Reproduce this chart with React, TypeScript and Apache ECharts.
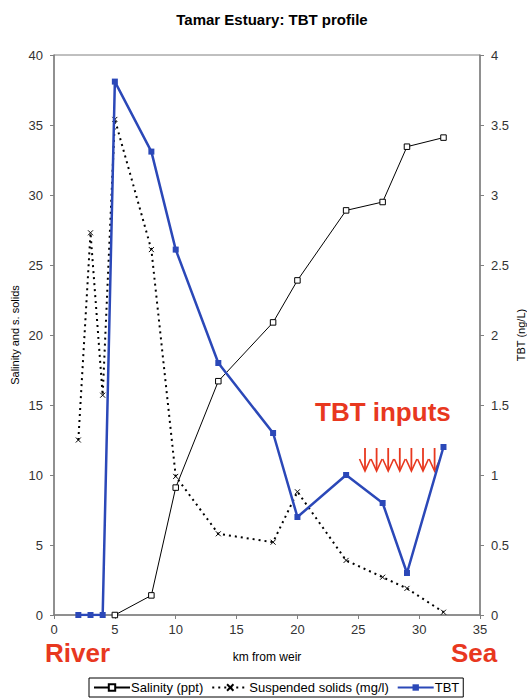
import React, { useEffect, useRef } from "react";
import * as echarts from "echarts";

const title = "Tamar Estuary: TBT profile";
const salinityKm = [5, 8, 10, 13.5, 18, 20, 24, 27, 29, 32];
const salinity = [0, 1.4, 9.1, 16.7, 20.9, 23.9, 28.9, 29.5, 33.45, 34.1];
const solidsKm = [2, 3, 4, 5, 8, 10, 13.5, 18, 20, 24, 27, 29, 32];
const solids = [12.5, 27.3, 15.7, 35.4, 26.1, 9.9, 5.8, 5.2, 8.8, 3.9, 2.7, 1.9, 0.2];
const tbtKm = [2, 3, 4, 5, 8, 10, 13.5, 18, 20, 24, 27, 29, 32];
const tbt = [0, 0, 0, 3.81, 3.31, 2.61, 1.8, 1.3, 0.7, 1.0, 0.8, 0.3, 1.2];
const seriesNames = ["Salinity (ppt)", "Suspended solids (mg/l)", "TBT"];

const FONT = "'Liberation Sans', Arial, sans-serif";
const RED = "#e8381f";
const BLUE = "#2b48b8";
const AXIS = "#808080";

function zip(xs: number[], ys: number[]) {
  return xs.map((x, i) => [x, ys[i]]);
}

export default function App() {
  const ref = useRef<HTMLDivElement>(null);
  useEffect(() => {
    if (!ref.current) return;
    const chart = echarts.init(ref.current, undefined, { renderer: "svg" });
    const arrows: any[] = [];
    for (let i = 0; i < 7; i++) {
      const x = 365 + i * 11.6;
      arrows.push({
        type: "line",
        shape: { x1: x, y1: 448, x2: x, y2: 470 },
        style: { stroke: RED, lineWidth: 1.8 },
      });
      arrows.push({
        type: "polyline",
        shape: { points: [[x - 5.5, 459], [x, 471], [x + 5.5, 459]] },
        style: { stroke: RED, lineWidth: 1.6, fill: "none" },
      });
    }
    chart.setOption({
      animation: false,
      backgroundColor: "#fff",
      title: {
        text: title,
        left: 267,
        textAlign: "center",
        top: 7,
        textStyle: { fontFamily: FONT, fontSize: 15, fontWeight: "bold", color: "#000" },
      },
      grid: {
        left: 54,
        right: 47,
        top: 55,
        bottom: 84,
        containLabel: false,
        outerBoundsMode: "none",
        show: true,
        borderColor: AXIS,
        borderWidth: 1,
        backgroundColor: "transparent",
      },
      legend: {
        left: 89,
        top: 678,
        width: 400,
        padding: [3, 4, 3, 4],
        borderColor: "#000",
        borderWidth: 1,
        itemWidth: 36,
        itemHeight: 8,
        itemGap: 8,
        textStyle: { fontFamily: FONT, fontSize: 13, color: "#000", padding: [0, 0, 0, -4] },
        data: seriesNames,
      },
      xAxis: {
        type: "value",
        min: 0,
        max: 35,
        interval: 5,
        name: "km from weir",
        nameLocation: "middle",
        nameGap: 36,
        nameMoveOverlap: false,
        nameTextStyle: { fontFamily: FONT, fontSize: 12, color: "#000" },
        axisLine: { lineStyle: { color: AXIS, width: 1.5 } },
        axisTick: { show: true, length: 4, lineStyle: { color: AXIS } },
        axisLabel: { fontFamily: FONT, fontSize: 13, color: "#333", margin: 8 },
        splitLine: { show: false },
      },
      yAxis: [
        {
          type: "value",
          min: 0,
          max: 40,
          interval: 5,
          name: "Salinity and s. solids",
          nameLocation: "middle",
          nameGap: 34,
          nameMoveOverlap: false,
          nameTextStyle: { fontFamily: FONT, fontSize: 11, color: "#000" },
          axisLine: { show: true, lineStyle: { color: AXIS, width: 1.5 } },
          axisTick: { show: true, length: 4, lineStyle: { color: AXIS } },
          axisLabel: { fontFamily: FONT, fontSize: 13, color: "#333", margin: 11 },
          splitLine: { show: false },
        },
        {
          type: "value",
          min: 0,
          max: 4,
          interval: 0.5,
          position: "right",
          name: "TBT (ng/L)",
          nameLocation: "middle",
          nameGap: 35,
          nameRotate: 90,
          nameMoveOverlap: false,
          nameTextStyle: { fontFamily: FONT, fontSize: 11, color: "#000" },
          axisLine: { show: true, lineStyle: { color: AXIS, width: 1.5 } },
          axisTick: { show: true, length: 4, lineStyle: { color: AXIS } },
          axisLabel: { fontFamily: FONT, fontSize: 13, color: "#333", margin: 11 },
          splitLine: { show: false },
        },
      ],
      series: [
        {
          name: seriesNames[0],
          type: "line",
          yAxisIndex: 0,
          data: zip(salinityKm, salinity),
          symbol: "rect",
          symbolSize: 5.5,
          lineStyle: { color: "#000", width: 1 },
          itemStyle: { color: "#fff", borderColor: "#000", borderWidth: 1 },
          z: 2,
        },
        {
          name: seriesNames[1],
          type: "line",
          yAxisIndex: 0,
          data: zip(solidsKm, solids),
          symbol: "path://M0,0L10,10M10,0L0,10",
          symbolSize: 5,
          lineStyle: { color: "#000", width: 2, type: [2, 4] },
          itemStyle: { color: "transparent", borderColor: "#000", borderWidth: 1 },
          z: 3,
        },
        {
          name: seriesNames[2],
          type: "line",
          yAxisIndex: 1,
          data: zip(tbtKm, tbt),
          symbol: "rect",
          symbolSize: 6,
          lineStyle: { color: BLUE, width: 2.5 },
          itemStyle: { color: BLUE },
          z: 4,
        },
      ],
      graphic: [
        {
          type: "text",
          left: 45,
          top: 640,
          style: { text: "River", fill: RED, font: `bold 26px ${FONT}` },
        },
        {
          type: "text",
          left: 451,
          top: 640,
          style: { text: "Sea", fill: RED, font: `bold 26px ${FONT}` },
        },
        {
          type: "text",
          left: 315,
          top: 399,
          style: { text: "TBT inputs", fill: RED, font: `bold 26px ${FONT}` },
        },
        ...arrows,
      ],
    });
    return () => chart.dispose();
  }, []);
  return (
    <div
      ref={ref}
      style={{ position: "fixed", left: 0, top: 0, width: 527, height: 699, background: "#fff" }}
    />
  );
}
